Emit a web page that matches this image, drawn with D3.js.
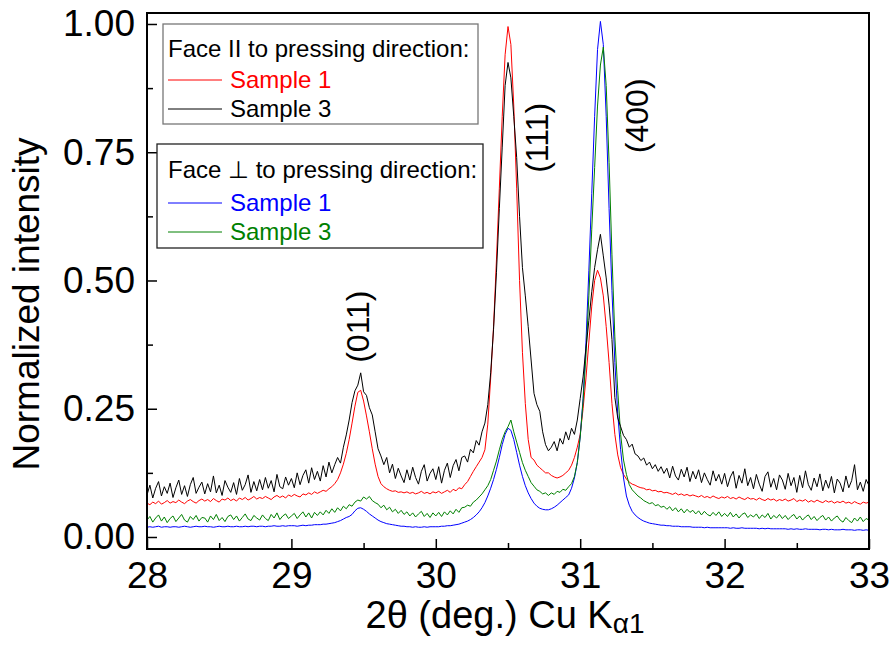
<!DOCTYPE html>
<html><head><meta charset="utf-8">
<script src="https://cdn.jsdelivr.net/npm/d3@7"></script>
<style>
html,body{margin:0;padding:0;background:#fff;}
text{font-family:"Liberation Sans",Arial,sans-serif;}
</style></head>
<body><svg id="c" width="895" height="645"></svg>
<script>
// 2-theta grid: 28.00 .. 33.00, step 0.02 (251 points)
const twoTheta = d3.range(251).map(i => +(28 + i * 0.02).toFixed(2));

const xTicks = [28, 29, 30, 31, 32, 33];
const xMinorTicks = [28.5, 29.5, 30.5, 31.5, 32.5];
const yTicks = [0, 0.25, 0.5, 0.75, 1.0];
const yMinorTicks = [0.125, 0.375, 0.625, 0.875];

// Face || to pressing direction, Sample 1 (red)
const parSample1 = [
0.066,0.063,0.068,0.065,0.070,0.064,0.067,0.071,0.066,0.069,
0.067,0.072,0.068,0.065,0.070,0.073,0.069,0.066,0.071,0.074,
0.070,0.073,0.069,0.075,0.071,0.068,0.074,0.072,0.076,0.071,
0.074,0.070,0.076,0.073,0.077,0.072,0.075,0.079,0.074,0.077,
0.075,0.079,0.076,0.073,0.078,0.081,0.077,0.080,0.076,0.082,
0.079,0.083,0.080,0.078,0.084,0.082,0.086,0.083,0.088,0.085,
0.088,0.091,0.089,0.094,0.098,0.104,0.112,0.125,0.142,0.163,
0.190,0.222,0.255,0.282,0.286,0.265,0.236,0.205,0.172,0.142,
0.118,0.104,0.098,0.094,0.091,0.089,0.090,0.087,0.088,0.086,
0.088,0.085,0.087,0.084,0.086,0.089,0.085,0.087,0.084,0.088,
0.086,0.089,0.085,0.088,0.091,0.087,0.093,0.090,0.096,0.094,
0.102,0.108,0.118,0.128,0.137,0.146,0.155,0.170,0.220,0.310,
0.410,0.540,0.680,0.820,0.940,0.995,0.960,0.840,0.680,0.500,
0.360,0.260,0.190,0.155,0.150,0.140,0.135,0.130,0.125,0.125,
0.120,0.117,0.115,0.117,0.120,0.125,0.130,0.140,0.155,0.175,
0.200,0.250,0.310,0.380,0.450,0.500,0.520,0.505,0.470,0.410,
0.340,0.260,0.200,0.160,0.135,0.122,0.113,0.107,0.103,0.101,
0.098,0.096,0.095,0.092,0.093,0.090,0.091,0.088,0.089,0.086,
0.087,0.085,0.083,0.086,0.082,0.084,0.081,0.083,0.080,0.082,
0.080,0.078,0.081,0.077,0.079,0.076,0.080,0.077,0.075,0.078,
0.076,0.079,0.075,0.077,0.074,0.078,0.075,0.073,0.077,0.074,
0.075,0.072,0.076,0.073,0.071,0.075,0.072,0.074,0.070,0.073,
0.071,0.074,0.070,0.072,0.075,0.069,0.072,0.070,0.073,0.068,
0.071,0.068,0.072,0.069,0.067,0.071,0.068,0.070,0.066,0.069,
0.067,0.070,0.066,0.068,0.065,0.069,0.066,0.064,0.068,0.066,
0.068];

// Face || to pressing direction, Sample 3 (black)
const parSample3 = [
0.082,0.101,0.076,0.095,0.108,0.080,0.098,0.085,0.105,0.077,
0.096,0.111,0.083,0.100,0.079,0.102,0.116,0.085,0.097,0.107,
0.084,0.104,0.088,0.119,0.086,0.101,0.081,0.110,0.097,0.087,
0.106,0.083,0.114,0.091,0.102,0.121,0.087,0.108,0.090,0.112,
0.092,0.116,0.095,0.110,0.088,0.122,0.098,0.094,0.117,0.101,
0.114,0.096,0.125,0.102,0.120,0.131,0.105,0.135,0.112,0.128,
0.109,0.139,0.117,0.146,0.125,0.141,0.155,0.144,0.175,0.199,
0.228,0.262,0.285,0.296,0.320,0.283,0.276,0.252,0.238,0.205,
0.172,0.158,0.141,0.155,0.125,0.142,0.114,0.134,0.119,0.106,
0.131,0.111,0.136,0.116,0.103,0.128,0.141,0.109,0.124,0.133,
0.112,0.137,0.105,0.130,0.144,0.116,0.139,0.151,0.129,0.155,
0.158,0.146,0.171,0.164,0.188,0.179,0.205,0.222,0.258,0.320,
0.405,0.515,0.640,0.760,0.880,0.925,0.895,0.820,0.740,0.625,
0.525,0.470,0.410,0.345,0.280,0.258,0.245,0.205,0.180,0.168,
0.175,0.186,0.168,0.192,0.181,0.205,0.189,0.212,0.200,0.228,
0.270,0.312,0.368,0.422,0.478,0.525,0.560,0.590,0.548,0.505,
0.452,0.385,0.272,0.232,0.215,0.198,0.190,0.175,0.181,0.162,
0.158,0.149,0.154,0.140,0.146,0.133,0.141,0.128,0.137,0.124,
0.134,0.115,0.138,0.119,0.111,0.132,0.117,0.136,0.108,0.128,
0.113,0.131,0.106,0.125,0.112,0.101,0.129,0.109,0.122,0.103,
0.124,0.098,0.117,0.128,0.095,0.120,0.105,0.133,0.100,0.116,
0.094,0.122,0.103,0.089,0.118,0.127,0.097,0.114,0.092,0.121,
0.111,0.093,0.124,0.100,0.116,0.087,0.120,0.096,0.129,0.102,
0.091,0.115,0.098,0.123,0.090,0.111,0.095,0.118,0.086,0.113,
0.105,0.088,0.119,0.096,0.110,0.141,0.092,0.107,0.089,0.112,
0.100];

// Face ⊥ to pressing direction, Sample 1 (blue)
const perpSample1 = [
0.019,0.020,0.019,0.020,0.021,0.019,0.020,0.020,0.019,0.020,
0.020,0.019,0.020,0.021,0.020,0.019,0.020,0.021,0.020,0.020,
0.021,0.020,0.020,0.019,0.020,0.021,0.020,0.020,0.021,0.020,
0.020,0.021,0.020,0.020,0.021,0.020,0.021,0.021,0.020,0.021,
0.021,0.020,0.021,0.021,0.022,0.021,0.021,0.022,0.021,0.022,
0.022,0.022,0.021,0.022,0.023,0.022,0.023,0.023,0.024,0.024,
0.024,0.025,0.025,0.026,0.027,0.028,0.030,0.032,0.035,0.038,
0.040,0.044,0.051,0.056,0.057,0.054,0.050,0.045,0.041,0.037,
0.033,0.030,0.028,0.026,0.025,0.024,0.023,0.022,0.021,0.021,
0.020,0.020,0.019,0.020,0.019,0.019,0.020,0.019,0.020,0.020,
0.020,0.020,0.021,0.021,0.022,0.022,0.023,0.024,0.025,0.027,
0.029,0.031,0.034,0.038,0.043,0.049,0.057,0.067,0.080,0.095,
0.112,0.132,0.155,0.180,0.200,0.212,0.208,0.190,0.165,0.140,
0.118,0.100,0.086,0.075,0.066,0.060,0.056,0.054,0.053,0.053,
0.055,0.058,0.062,0.067,0.072,0.077,0.082,0.095,0.115,0.145,
0.195,0.270,0.380,0.520,0.670,0.820,0.950,1.005,0.960,0.820,
0.640,0.480,0.340,0.240,0.170,0.115,0.080,0.062,0.050,0.043,
0.038,0.034,0.031,0.029,0.027,0.026,0.025,0.024,0.023,0.023,
0.022,0.022,0.021,0.021,0.021,0.020,0.020,0.020,0.020,0.019,
0.019,0.019,0.019,0.018,0.019,0.018,0.018,0.018,0.018,0.018,
0.018,0.018,0.017,0.018,0.017,0.017,0.018,0.017,0.017,0.017,
0.017,0.017,0.016,0.017,0.016,0.017,0.016,0.016,0.016,0.016,
0.016,0.016,0.015,0.016,0.015,0.016,0.015,0.015,0.016,0.015,
0.015,0.015,0.015,0.014,0.015,0.015,0.014,0.015,0.014,0.014,
0.014,0.015,0.014,0.014,0.014,0.013,0.014,0.014,0.013,0.014,
0.013];

// Face ⊥ to pressing direction, Sample 3 (green)
const perpSample3 = [
0.033,0.040,0.029,0.037,0.043,0.031,0.039,0.028,0.036,0.041,
0.030,0.037,0.044,0.033,0.029,0.040,0.034,0.042,0.031,0.038,
0.037,0.029,0.041,0.034,0.044,0.032,0.038,0.030,0.040,0.043,
0.034,0.041,0.031,0.038,0.045,0.035,0.032,0.042,0.037,0.033,
0.043,0.036,0.032,0.044,0.037,0.047,0.034,0.041,0.045,0.036,
0.041,0.046,0.036,0.043,0.049,0.039,0.047,0.037,0.048,0.042,
0.049,0.043,0.052,0.046,0.055,0.048,0.057,0.051,0.060,0.055,
0.063,0.060,0.068,0.072,0.070,0.078,0.074,0.079,0.071,0.067,
0.064,0.057,0.062,0.053,0.058,0.049,0.054,0.046,0.052,0.044,
0.049,0.041,0.047,0.039,0.045,0.050,0.040,0.046,0.038,0.047,
0.041,0.048,0.040,0.049,0.043,0.051,0.045,0.054,0.048,0.057,
0.058,0.062,0.060,0.068,0.072,0.078,0.084,0.092,0.100,0.112,
0.130,0.148,0.170,0.190,0.205,0.215,0.228,0.205,0.185,0.165,
0.145,0.130,0.118,0.106,0.099,0.092,0.089,0.084,0.086,0.081,
0.086,0.083,0.089,0.087,0.093,0.091,0.098,0.104,0.118,0.145,
0.195,0.265,0.355,0.470,0.600,0.720,0.840,0.920,0.955,0.880,
0.730,0.550,0.390,0.285,0.200,0.150,0.122,0.102,0.092,0.086,
0.080,0.076,0.071,0.068,0.065,0.067,0.061,0.063,0.058,0.060,
0.054,0.059,0.051,0.057,0.049,0.055,0.047,0.054,0.048,0.052,
0.045,0.051,0.043,0.050,0.044,0.041,0.048,0.042,0.049,0.040,
0.046,0.040,0.048,0.039,0.045,0.037,0.044,0.047,0.038,0.043,
0.039,0.045,0.036,0.043,0.038,0.046,0.035,0.042,0.037,0.044,
0.036,0.042,0.034,0.040,0.044,0.035,0.041,0.033,0.039,0.043,
0.034,0.040,0.032,0.038,0.042,0.033,0.039,0.031,0.037,0.041,
0.033,0.029,0.038,0.032,0.028,0.037,0.031,0.039,0.030,0.036,
0.033];

const peakLabels = ["(011)", "(111)", "(400)"];
// label anchor in data units (2θ, intensity) for each reflection label
const peakLabelX = [29.54, 30.78, 31.47];
const peakLabelY = [0.410, 0.778, 0.821];

const svg = d3.select("#c");
const L = 147, R = 869, T = 13, B = 549;
const x = d3.scaleLinear().domain([28, 33]).range([L, R]);
const y = d3.scaleLinear().domain([-0.0234, 1.0214]).range([B, T]);

const series = [
  {vals: parSample1, color: "#ff0000"},
  {vals: perpSample1, color: "#0000ff"},
  {vals: perpSample3, color: "#008000"},
  {vals: parSample3, color: "#000000"}
];

svg.append("clipPath").attr("id","clp").append("rect")
  .attr("x", L).attr("y", T).attr("width", R - L).attr("height", B - T);

const line = d3.line().x((d, i) => x(twoTheta[i])).y(d => y(d));
const plot = svg.append("g").attr("clip-path", "url(#clp)");
series.forEach(s => {
  plot.append("path").datum(s.vals).attr("d", line)
    .attr("fill", "none").attr("stroke", s.color).attr("stroke-width", 1)
    .attr("stroke-linejoin", "round");
});

// axes
const fs = "37px";
const xAxis = svg.append("g").attr("transform", `translate(0,${B})`)
  .call(d3.axisBottom(x).tickValues(xTicks).tickFormat(d3.format("d"))
    .tickSizeInner(-10).tickSizeOuter(0).tickPadding(13));
xAxis.select(".domain").remove();
xAxis.selectAll("line").attr("stroke", "#000").attr("stroke-width", 1.5);
xAxis.selectAll("text").attr("font-size", fs).attr("fill", "#000")
  .style("font-family", '"Liberation Sans", Arial, sans-serif');
const xMin = svg.append("g").attr("transform", `translate(0,${B})`)
  .call(d3.axisBottom(x).tickValues(xMinorTicks).tickFormat("").tickSizeInner(-6).tickSizeOuter(0));
xMin.select(".domain").remove();
xMin.selectAll("line").attr("stroke", "#000").attr("stroke-width", 1.5);

const yAxis = svg.append("g").attr("transform", `translate(${L},0)`)
  .call(d3.axisLeft(y).tickValues(yTicks).tickFormat(d3.format(".2f"))
    .tickSizeInner(-10).tickSizeOuter(0).tickPadding(12));
yAxis.select(".domain").remove();
yAxis.selectAll("line").attr("stroke", "#000").attr("stroke-width", 1.5);
yAxis.selectAll("text").attr("font-size", fs).attr("fill", "#000")
  .style("font-family", '"Liberation Sans", Arial, sans-serif');
const yMin = svg.append("g").attr("transform", `translate(${L},0)`)
  .call(d3.axisLeft(y).tickValues(yMinorTicks).tickFormat("").tickSizeInner(-6).tickSizeOuter(0));
yMin.select(".domain").remove();
yMin.selectAll("line").attr("stroke", "#000").attr("stroke-width", 1.5);

// frame
svg.append("rect").attr("x", L).attr("y", T).attr("width", R - L).attr("height", B - T)
  .attr("fill", "none").attr("stroke", "#000").attr("stroke-width", 2);

// axis titles
const xt = svg.append("text").attr("x", 505).attr("y", 628).attr("text-anchor", "middle")
  .attr("font-size", "38px").attr("fill", "#000");
xt.append("tspan").text("2θ (deg.) Cu K");
xt.append("tspan").attr("font-size", "28px").attr("dy", 5).text("α1");

svg.append("text").attr("transform", "translate(39,304) rotate(-90)")
  .attr("text-anchor", "middle").attr("font-size", "37px").attr("fill", "#000")
  .text("Normalized intensity");

// peak labels
peakLabels.forEach((t, i) => {
  const px = x(peakLabelX[i]);
  const py = y(peakLabelY[i]);
  svg.append("text").attr("transform", `translate(${px},${py}) rotate(-90)`)
    .attr("text-anchor", "middle").attr("font-size", "32px").attr("fill", "#000").text(t);
});

// legends
function legend(bx, by, bw, bh, stroke, title, items, rows) {
  const g = svg.append("g");
  g.append("rect").attr("x", bx).attr("y", by).attr("width", bw).attr("height", bh)
    .attr("fill", "#fff").attr("stroke", stroke).attr("stroke-width", 1.3);
  g.append("text").attr("x", 168).attr("y", rows[0]).attr("font-size", "24px")
    .attr("fill", "#000").text(title);
  items.forEach((it, i) => {
    const ly = rows[i + 1];
    g.append("line").attr("x1", 168).attr("x2", 222).attr("y1", ly - 8).attr("y2", ly - 8)
      .attr("stroke", it.color).attr("stroke-width", 1);
    g.append("text").attr("x", 230).attr("y", ly).attr("font-size", "24px")
      .attr("fill", it.color).text(it.name);
  });
}
legend(163, 24, 315, 100, "#777", "Face II to pressing direction:",
  [{name: "Sample 1", color: "#ff0000"}, {name: "Sample 3", color: "#000000"}], [57, 88, 117]);
legend(157, 144, 326, 104, "#222", "Face \u22A5 to pressing direction:",
  [{name: "Sample 1", color: "#0000ff"}, {name: "Sample 3", color: "#008000"}], [178, 211, 240]);
</script></body></html>
